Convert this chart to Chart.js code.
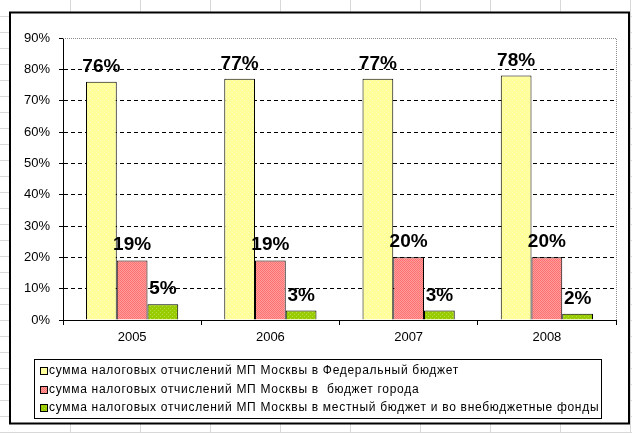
<!DOCTYPE html>
<html>
<head>
<meta charset="utf-8">
<script src="https://cdn.jsdelivr.net/npm/chart.js@4.4.0/dist/chart.umd.min.js"></script>
<style>
  html, body { margin: 0; padding: 0; background: #fff; }
  #wrap { width: 632px; height: 433px; }
</style>
</head>
<body>
<div id="wrap"><canvas id="budgetBars"></canvas></div>
<script>
// chart data
const years = ['2005', '2006', '2007', '2008'];
const federalShare = [76, 77, 77, 78];
const cityShare = [19, 19, 20, 20];
const localShare = [5, 3, 3, 2];
const seriesNames = [
  'сумма налоговых отчислений МП Москвы в Федеральный бюджет',
  'сумма налоговых отчислений МП Москвы в  бюджет города',
  'сумма налоговых отчислений МП Москвы в местный бюджет и во внебюджетные фонды'
];
const yMax = 90;
const yStep = 10;

const canvas = document.getElementById('budgetBars');
const ctx = canvas.getContext('2d');

// small excel-like fill patterns
function makePattern(size, base, dot, cells) {
  const c = document.createElement('canvas');
  c.width = size; c.height = size;
  const g = c.getContext('2d');
  g.fillStyle = base;
  g.fillRect(0, 0, size, size);
  g.fillStyle = dot;
  cells.forEach(function (p) { g.fillRect(p[0], p[1], 1, 1); });
  return ctx.createPattern(c, 'repeat');
}
const yellowFill = makePattern(4, '#FFFF99', '#FFFFC4', [[0, 0], [2, 2]]);
const redFill = makePattern(2, '#FF7070', '#FF9C9C', [[0, 1], [1, 0]]);
const greenFill = makePattern(4, '#99CC00', '#B8DD40', [[0, 0], [2, 2]]);
const fills = [yellowFill, redFill, greenFill];

// spreadsheet cells + chart frame behind everything
const sheetBackground = {
  id: 'sheetBackground',
  beforeDraw(chart) {
    const c = chart.ctx;
    c.save();
    c.fillStyle = '#fff';
    c.fillRect(0, 0, chart.width, chart.height);
    c.strokeStyle = '#D8D8D8';
    c.lineWidth = 1;
    c.beginPath();
    for (let x = 70; x < chart.width; x += 70) { c.moveTo(x + 0.5, 0); c.lineTo(x + 0.5, chart.height); }
    for (let y = 16; y < chart.height; y += 16) { c.moveTo(0, y + 0.5); c.lineTo(chart.width, y + 0.5); }
    c.stroke();
    c.fillStyle = '#fff';
    c.fillRect(10, 12.5, 619, 411);
    c.strokeStyle = '#000';
    c.lineWidth = 2;
    c.strokeRect(10, 12.5, 619, 411);
    c.restore();
  }
};

// grey top/right edge of the plot area
const plotBorder = {
  id: 'plotBorder',
  beforeDatasetsDraw(chart) {
    const a = chart.chartArea;
    const c = chart.ctx;
    c.save();
    c.strokeStyle = '#8C8C8C';
    c.lineWidth = 1;
    c.setLineDash([1, 1]);
    c.beginPath();
    c.moveTo(a.left, a.top + 0.5);
    c.lineTo(a.right + 0.5, a.top + 0.5);
    c.lineTo(a.right + 0.5, a.bottom);
    c.stroke();
    c.restore();
  }
};

// percent labels over the bars
const barLabels = {
  id: 'barLabels',
  afterDatasetsDraw(chart) {
    const c = chart.ctx;
    c.save();
    c.font = 'bold 19px "Liberation Sans", Arial, sans-serif';
    c.fillStyle = '#000';
    c.textAlign = 'center';
    c.textBaseline = 'alphabetic';
    chart.data.datasets.forEach(function (ds, i) {
      chart.getDatasetMeta(i).data.forEach(function (bar, j) {
        c.fillText(ds.data[j] + '%', bar.x, bar.y - 10);
      });
    });
    c.restore();
  }
};

// boxed legend, one series per row
const boxLegend = {
  id: 'boxLegend',
  afterDraw(chart) {
    const c = chart.ctx;
    c.save();
    c.strokeStyle = '#000';
    c.lineWidth = 1;
    c.strokeRect(34.5, 359.5, 567, 59);
    c.font = '12px "Liberation Sans", Arial, sans-serif';
    c.letterSpacing = '0.7px';
    c.textBaseline = 'middle';
    chart.data.datasets.forEach(function (ds, i) {
      const y = 371 + i * 18.5;
      c.fillStyle = ds.backgroundColor;
      c.fillRect(40, Math.round(y) - 3, 7, 7);
      c.strokeRect(40.5, Math.round(y) - 3.5, 7, 7);
      c.fillStyle = '#000';
      c.fillText(ds.label, 49, y);
    });
    c.restore();
  }
};

new Chart(canvas, {
  type: 'bar',
  data: {
    labels: years,
    datasets: [
      { label: seriesNames[0], data: federalShare, backgroundColor: fills[0] },
      { label: seriesNames[1], data: cityShare, backgroundColor: fills[1] },
      { label: seriesNames[2], data: localShare, backgroundColor: fills[2] }
    ]
  },
  options: {
    responsive: true,
    maintainAspectRatio: false,
    animation: false,
    layout: { padding: { left: 10, top: 38, right: 16, bottom: 83 } },
    datasets: {
      bar: {
        borderColor: '#000',
        borderWidth: 1,
        categoryPercentage: 0.667,
        barPercentage: 1
      }
    },
    plugins: {
      legend: { display: false },
      tooltip: { enabled: false }
    },
    scales: {
      x: {
        afterFit(scale) { scale.height = 30; },
        grid: {
          display: true,
          offset: true,
          drawOnChartArea: false,
          tickLength: 5,
          color: '#000',
          tickColor: '#000'
        },
        border: { color: '#000', width: 1 },
        ticks: {
          color: '#000',
          padding: 5,
          font: { family: '"Liberation Sans", Arial, sans-serif', size: 13 }
        }
      },
      y: {
        min: 0,
        max: yMax,
        afterFit(scale) { scale.width = 53; },
        grid: {
          color(context) { return context.tick && context.tick.value === yMax ? 'rgba(0,0,0,0)' : '#000'; },
          tickColor: '#000',
          tickLength: 4
        },
        border: { color: '#000', width: 1, dash: [4, 3] },
        ticks: {
          stepSize: yStep,
          color: '#000',
          padding: 9,
          font: { family: '"Liberation Sans", Arial, sans-serif', size: 13 },
          callback(v) { return v + '%'; }
        }
      }
    }
  },
  plugins: [sheetBackground, plotBorder, barLabels, boxLegend]
});
</script>
</body>
</html>
